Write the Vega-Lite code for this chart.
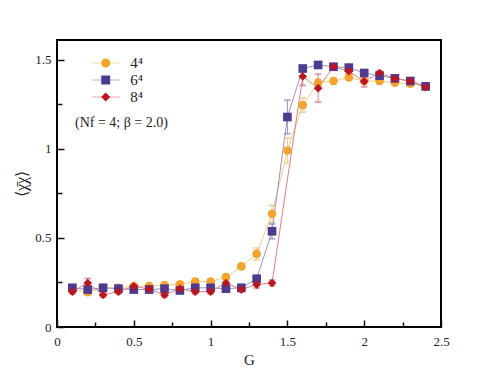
{
  "$schema": "https://vega.github.io/schema/vega-lite/v6.json",
  "autosize": "none",
  "width": 384,
  "height": 287,
  "padding": {"left": 57, "top": 40, "right": 53, "bottom": 55},
  "background": "white",
  "title": {"text": "(Nf = 4; β = 2.0)", "anchor": "start", "frame": "group", "orient": "top", "offset": 0, "dx": 18, "dy": 100.5, "baseline": "alphabetic", "font": "Liberation Serif", "fontSize": 14, "fontWeight": "normal", "color": "#222"},
  "config": {
    "view": {"stroke": "black", "strokeWidth": 2},
    "font": "Liberation Serif",
    "axis": {"labelFont": "Liberation Serif", "titleFont": "Liberation Serif", "labelColor": "#222", "titleColor": "#222", "titleFontWeight": "normal", "grid": false, "domain": false, "tickColor": "#111", "tickWidth": 1.5},
    "legend": {"labelFont": "Liberation Serif"}
  },
  "datasets": {
    "d": [
      {"G":0.1,"L":"4⁴","v":0.21,"lo":0.198,"hi":0.222},
      {"G":0.2,"L":"4⁴","v":0.195,"lo":0.183,"hi":0.207},
      {"G":0.3,"L":"4⁴","v":0.22,"lo":0.208,"hi":0.232},
      {"G":0.4,"L":"4⁴","v":0.22,"lo":0.208,"hi":0.232},
      {"G":0.5,"L":"4⁴","v":0.23,"lo":0.218,"hi":0.242},
      {"G":0.6,"L":"4⁴","v":0.23,"lo":0.218,"hi":0.242},
      {"G":0.7,"L":"4⁴","v":0.235,"lo":0.223,"hi":0.247},
      {"G":0.8,"L":"4⁴","v":0.24,"lo":0.228,"hi":0.252},
      {"G":0.9,"L":"4⁴","v":0.255,"lo":0.243,"hi":0.267},
      {"G":1.0,"L":"4⁴","v":0.255,"lo":0.243,"hi":0.267},
      {"G":1.1,"L":"4⁴","v":0.28,"lo":0.265,"hi":0.295},
      {"G":1.2,"L":"4⁴","v":0.34,"lo":0.325,"hi":0.355},
      {"G":1.3,"L":"4⁴","v":0.41,"lo":0.377,"hi":0.443},
      {"G":1.4,"L":"4⁴","v":0.635,"lo":0.588,"hi":0.682},
      {"G":1.5,"L":"4⁴","v":0.99,"lo":0.92,"hi":1.06},
      {"G":1.6,"L":"4⁴","v":1.245,"lo":1.205,"hi":1.285},
      {"G":1.7,"L":"4⁴","v":1.37,"lo":1.35,"hi":1.39},
      {"G":1.8,"L":"4⁴","v":1.38,"lo":1.365,"hi":1.395},
      {"G":1.9,"L":"4⁴","v":1.40,"lo":1.385,"hi":1.415},
      {"G":2.0,"L":"4⁴","v":1.38,"lo":1.365,"hi":1.395},
      {"G":2.1,"L":"4⁴","v":1.38,"lo":1.365,"hi":1.395},
      {"G":2.2,"L":"4⁴","v":1.37,"lo":1.358,"hi":1.382},
      {"G":2.3,"L":"4⁴","v":1.365,"lo":1.353,"hi":1.377},
      {"G":2.4,"L":"4⁴","v":1.35,"lo":1.338,"hi":1.362},
      {"G":0.1,"L":"6⁴","v":0.22,"lo":0.208,"hi":0.232},
      {"G":0.2,"L":"6⁴","v":0.21,"lo":0.198,"hi":0.222},
      {"G":0.3,"L":"6⁴","v":0.22,"lo":0.208,"hi":0.232},
      {"G":0.4,"L":"6⁴","v":0.215,"lo":0.203,"hi":0.227},
      {"G":0.5,"L":"6⁴","v":0.21,"lo":0.198,"hi":0.222},
      {"G":0.6,"L":"6⁴","v":0.21,"lo":0.198,"hi":0.222},
      {"G":0.7,"L":"6⁴","v":0.215,"lo":0.203,"hi":0.227},
      {"G":0.8,"L":"6⁴","v":0.205,"lo":0.193,"hi":0.217},
      {"G":0.9,"L":"6⁴","v":0.22,"lo":0.208,"hi":0.232},
      {"G":1.0,"L":"6⁴","v":0.22,"lo":0.208,"hi":0.232},
      {"G":1.1,"L":"6⁴","v":0.215,"lo":0.203,"hi":0.227},
      {"G":1.2,"L":"6⁴","v":0.22,"lo":0.208,"hi":0.232},
      {"G":1.3,"L":"6⁴","v":0.27,"lo":0.25,"hi":0.29},
      {"G":1.4,"L":"6⁴","v":0.537,"lo":0.495,"hi":0.579},
      {"G":1.5,"L":"6⁴","v":1.178,"lo":1.084,"hi":1.272},
      {"G":1.6,"L":"6⁴","v":1.45,"lo":1.435,"hi":1.465},
      {"G":1.7,"L":"6⁴","v":1.47,"lo":1.458,"hi":1.482},
      {"G":1.8,"L":"6⁴","v":1.46,"lo":1.448,"hi":1.472},
      {"G":1.9,"L":"6⁴","v":1.455,"lo":1.443,"hi":1.467},
      {"G":2.0,"L":"6⁴","v":1.425,"lo":1.413,"hi":1.437},
      {"G":2.1,"L":"6⁴","v":1.41,"lo":1.398,"hi":1.422},
      {"G":2.2,"L":"6⁴","v":1.395,"lo":1.383,"hi":1.407},
      {"G":2.3,"L":"6⁴","v":1.38,"lo":1.368,"hi":1.392},
      {"G":2.4,"L":"6⁴","v":1.35,"lo":1.338,"hi":1.362},
      {"G":0.1,"L":"8⁴","v":0.198,"lo":0.186,"hi":0.21},
      {"G":0.2,"L":"8⁴","v":0.247,"lo":0.222,"hi":0.272},
      {"G":0.3,"L":"8⁴","v":0.18,"lo":0.168,"hi":0.192},
      {"G":0.4,"L":"8⁴","v":0.198,"lo":0.186,"hi":0.21},
      {"G":0.5,"L":"8⁴","v":0.228,"lo":0.216,"hi":0.24},
      {"G":0.6,"L":"8⁴","v":0.213,"lo":0.201,"hi":0.225},
      {"G":0.7,"L":"8⁴","v":0.18,"lo":0.168,"hi":0.192},
      {"G":0.8,"L":"8⁴","v":0.215,"lo":0.203,"hi":0.227},
      {"G":0.9,"L":"8⁴","v":0.198,"lo":0.186,"hi":0.21},
      {"G":1.0,"L":"8⁴","v":0.198,"lo":0.186,"hi":0.21},
      {"G":1.1,"L":"8⁴","v":0.247,"lo":0.222,"hi":0.272},
      {"G":1.2,"L":"8⁴","v":0.21,"lo":0.198,"hi":0.222},
      {"G":1.3,"L":"8⁴","v":0.238,"lo":0.218,"hi":0.258},
      {"G":1.4,"L":"8⁴","v":0.247,"lo":0.232,"hi":0.262},
      {"G":1.6,"L":"8⁴","v":1.405,"lo":1.355,"hi":1.455},
      {"G":1.7,"L":"8⁴","v":1.34,"lo":1.262,"hi":1.418},
      {"G":1.8,"L":"8⁴","v":1.46,"lo":1.448,"hi":1.472},
      {"G":1.9,"L":"8⁴","v":1.435,"lo":1.423,"hi":1.447},
      {"G":2.0,"L":"8⁴","v":1.378,"lo":1.348,"hi":1.408},
      {"G":2.1,"L":"8⁴","v":1.425,"lo":1.413,"hi":1.437},
      {"G":2.2,"L":"8⁴","v":1.393,"lo":1.381,"hi":1.405},
      {"G":2.3,"L":"8⁴","v":1.38,"lo":1.368,"hi":1.392},
      {"G":2.4,"L":"8⁴","v":1.345,"lo":1.333,"hi":1.357}
    ]
  },
  "data": {"name": "d"},
  "encoding": {
    "x": {"field": "G", "type": "quantitative", "title": "G",
      "scale": {"domain": [0, 2.5], "nice": false, "zero": false},
      "axis": {"values": [0,0.25,0.5,0.75,1,1.25,1.5,1.75,2,2.25,2.5],
        "labelExpr": "datum.value % 0.5 == 0 ? format(datum.value, '~g') : ''",
        "tickSize": {"condition": {"test": "datum.value % 0.5 == 0", "value": -7}, "value": -5},
        "labelPadding": 15, "labelFontSize": 13, "titleFontSize": 15, "titlePadding": 4, "labelFlush": false}},
    "y": {"field": "v", "type": "quantitative", "title": "⟨χ̄χ⟩",
      "scale": {"domain": [0, 1.61], "nice": false, "zero": false},
      "axis": {"values": [0,0.25,0.5,0.75,1,1.25,1.5],
        "labelExpr": "datum.value % 0.5 == 0 ? format(datum.value, '~g') : ''",
        "tickSize": {"condition": {"test": "datum.value % 0.5 == 0", "value": -7}, "value": -5},
        "labelPadding": 13, "labelFontSize": 13, "titleFontSize": 16, "titlePadding": 5, "labelFlush": false}}
  },
  "layer": [
    {"mark": {"type": "line", "strokeWidth": 1},
      "encoding": {"stroke": {"field": "L", "type": "nominal",
        "scale": {"domain": ["4⁴","6⁴","8⁴","-"], "range": ["#F7CB84","#9C90C4","#DC7F84","#999999"]},
        "legend": {"orient": "none", "legendX": 41.2, "legendY": 15.5, "values": ["4⁴","6⁴","8⁴"], "title": null, "zindex": 0,
          "symbolType": "M-3.1,0H3.1", "symbolSize": 80, "symbolStrokeWidth": 1, "rowPadding": 1,
          "labelExpr": "''", "labelFontSize": 15}}}},
    {"mark": {"type": "errorbar", "ticks": {"size": 6}, "thickness": 1},
      "encoding": {"y": {"field": "lo", "type": "quantitative"}, "y2": {"field": "hi"},
        "stroke": {"field": "L", "type": "nominal"}}},
    {"mark": {"type": "point", "filled": true, "opacity": 1, "size": 75},
      "encoding": {
        "color": {"field": "L", "type": "nominal",
          "scale": {"domain": ["4⁴","6⁴","8⁴"], "range": ["#F2A42C","#4E3A8E","#BA1620"]},
          "legend": {"orient": "none", "legendX": 41.2, "legendY": 15.5, "title": null, "zindex": 1,
            "labelFontSize": 15, "labelColor": "#222", "symbolSize": 80, "labelOffset": 17, "rowPadding": 1}},
        "shape": {"field": "L", "type": "nominal",
          "scale": {"domain": ["4⁴","6⁴","8⁴"], "range": ["circle","square","diamond"]}}
      }}
  ]
}
